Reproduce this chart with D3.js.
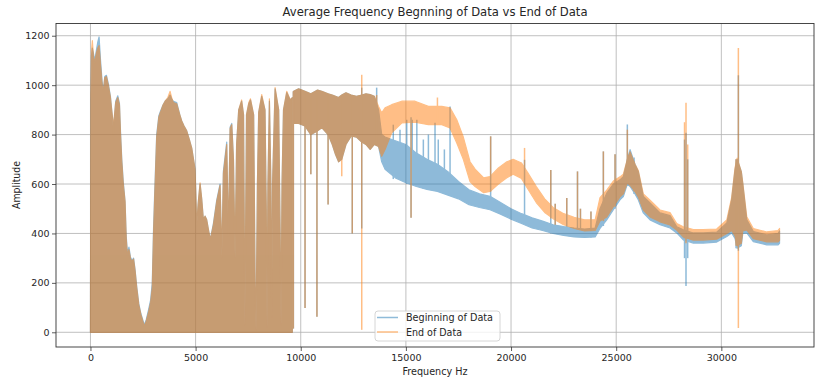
<!DOCTYPE html>
<html><head><meta charset="utf-8">
<script src="https://cdn.jsdelivr.net/npm/d3@7"></script>
<style>
body{margin:0;background:#fff}
svg{display:block}
text{font-family:"DejaVu Sans",sans-serif;fill:#262626}
</style>
</head><body>
<svg id="chart" width="819" height="381"></svg>
<script>
// ---------- text ----------
const chartTitle = "Average Frequency Begnning of Data vs End of Data";
const xLabel = "Frequency Hz";
const yLabel = "Amplitude";
const seriesNames = ["Beginning of Data", "End of Data"];
const xTicks = [0, 5000, 10000, 15000, 20000, 25000, 30000];
const yTicks = [0, 200, 400, 600, 800, 1000, 1200];

// ---------- low band (0 - 9600 Hz): signal swings down to 0, upper envelope ----------
const lowFreq = [0,20,50,90,140,210,280,350,410,480,560,614,680,760,850,950,1010,1060,1090,1120,1200,1300,1380,1430,1490,1560,1645,1700,1760,1830,1900,1980,2050,2120,2200,2300,2400,2560,2650,2760,2860,2940,3000,3060,3150,3250,3330,3450,3550,3680,3785,3860,3943,4100,4250,4340,4450,4578,4700,4816,4900,4974,5010,5053,5120,5212,5290,5370,5450,5528,5620,5700,5846,6005,6163,6250,6320,6480,6560,6640,6720,6800,6876,6950,7050,7190,7280,7343,7420,7530,7610,7760,7830,7874,7940,8000,8145,8300,8360,8397,8440,8510,8580,8620,8660,8780,8950,9020,9063,9110,9180,9334,9500,9600];
const lowBeginHi = [0,940,1120,1150,1130,1100,1140,1175,1195,1100,1010,978,1035,1040,1005,955,900,860,787,850,935,957,925,810,700,610,530,390,320,345,305,290,300,255,185,115,75,30,50,90,130,200,420,580,800,875,895,920,935,945,960,945,935,930,880,855,835,815,780,745,700,660,560,430,520,600,540,455,470,455,410,375,440,535,600,300,650,770,380,830,845,700,300,760,900,935,880,30,880,925,940,880,200,10,600,890,955,900,500,20,600,935,600,60,600,985,900,400,30,600,900,970,940,950];
const lowEndHi = [0,960,1140,1180,1120,1090,1130,1150,1160,1080,1000,975,1030,1035,1000,950,900,860,800,860,930,950,920,800,690,600,530,380,310,335,300,285,296,250,180,110,70,25,45,80,120,180,400,560,790,870,890,920,935,950,975,950,930,925,880,855,835,815,780,745,700,660,560,430,520,605,540,455,470,455,410,375,435,530,595,310,640,760,390,825,840,700,300,760,900,940,880,30,880,930,945,880,200,10,600,890,962,900,500,20,600,945,600,60,600,990,900,400,30,600,900,975,940,950];

// ---------- Beginning of Data: band above 9660 Hz (upper, lower) ----------
const beginFreq = [9660,9900,10200,10480,10800,11000,11300,11500,11650,11800,11950,12150,12400,12650,12900,13100,13300,13500,13700,13850,14010,14500,15000,15500,16000,16500,17000,17500,18000,18500,19000,19500,20000,20500,21000,21500,22000,22500,23000,23500,24000,24230,24550,24865,25180,25340,25530,25660,25895,26050,26290,26610,27085,27560,27880,28190,28670,29140,29780,30260,30490,30650,30750,30950,31020,31210,31520,32160,32700,32768];
const beginHi = [975,985,975,965,980,975,965,960,955,950,960,969,960,955,960,965,962,955,900,800,790,775,760,725,700,680,650,610,577,560,550,525,500,480,463,450,435,428,422,418,422,500,563,600,617,630,700,739,680,651,550,523,483,472,427,415,402,402,405,442,536,657,700,650,600,455,408,394,400,410];
const beginLo = [845,845,835,800,815,828,800,760,720,690,700,760,795,790,770,760,740,760,752,690,660,625,605,590,578,570,555,540,516,505,496,478,458,440,422,412,400,392,386,384,386,420,455,496,536,549,600,590,560,536,483,455,435,422,402,374,361,361,365,388,402,380,340,350,400,402,367,354,354,360];

// ---------- End of Data: band above 9660 Hz (upper, lower) ----------
const endFreq = [9660,9900,10200,10480,10800,11000,11300,11500,11650,11800,11950,12150,12400,12650,12900,13100,13300,13500,13700,13850,14010,14325,14800,15435,16070,16705,17100,17420,17730,18050,18290,18700,19000,19400,19800,20100,20500,20800,21200,21600,22000,22500,23000,23500,24000,24230,24550,24865,25180,25340,25530,25660,25895,26050,26290,26610,27085,27560,27880,28190,28670,29140,29780,30260,30490,30650,30750,30950,31020,31210,31520,32160,32700,32768];
const endHi = [975,985,975,965,980,975,965,960,955,950,960,969,960,955,960,965,962,955,914,888,908,921,935,935,914,914,908,860,790,690,660,625,630,665,690,700,685,645,590,540,505,480,465,455,455,545,575,612,629,640,700,730,680,655,560,535,495,484,440,427,416,416,418,455,545,665,705,650,605,467,420,406,412,420];
const endLo = [845,845,835,800,815,828,800,760,720,690,700,760,795,790,770,760,740,760,752,712,740,807,847,850,840,840,827,766,700,610,590,565,570,600,625,640,622,580,525,485,460,435,420,410,412,450,467,508,548,560,605,595,570,548,495,467,447,434,414,386,373,373,377,400,412,390,350,360,410,414,379,366,366,372];

// ---------- narrow spikes (Hz, from, to) ----------
const beginSpikeFreq = [9648,10204,10480,10770,11300,12450,12900,13610,14400,14720,15040,15245,15300,15520,15830,16070,16385,16540,16830,17100,19030,20642,21890,22100,22650,23160,23300,23800,24390,24945,25530,25850,28250,28320,28400,30700,30810,30950];
const beginSpikeLo = [15,98,640,63,517,400,420,760,620,620,600,463,600,590,580,578,575,570,560,555,496,440,400,400,392,386,386,384,430,500,600,560,300,187,300,340,330,380];
const beginSpikeHi = [975,975,965,975,965,960,990,990,840,820,860,870,860,860,780,800,848,780,740,914,793,698,657,520,543,651,500,489,732,720,841,707,780,807,700,700,1040,600];
const endSpikeFreq = [9648,10204,10480,10770,11300,11950,12450,12900,13610,15245,16500,19030,20642,21890,22100,22650,23160,23300,23800,24390,24945,25530,25850,28250,28320,28400,30700,30810];
const endSpikeLo = [15,98,640,63,517,631,400,10,760,463,840,570,620,460,435,435,420,415,410,450,508,605,570,380,360,380,350,17];
const endSpikeHi = [975,975,965,975,965,960,960,1042,960,870,950,793,746,657,520,543,651,500,489,732,720,820,690,850,929,760,700,1150];

const colors = ["#1f77b4", "#ff7f0e"];

// ---------- layout ----------
const svg = d3.select("#chart");
const plot = {l: 56, r: 814, t: 23.5, b: 347};
const x = d3.scaleLinear().domain([-1638.4, 34406.4]).range([plot.l, plot.r]);
const y = d3.scaleLinear().domain([-59.5, 1249.5]).range([plot.b, plot.t]);

svg.append("defs").append("clipPath").attr("id", "clip")
  .append("rect").attr("x", plot.l).attr("y", plot.t)
  .attr("width", plot.r - plot.l).attr("height", plot.b - plot.t);

// grid
const grid = svg.append("g");
grid.selectAll(".gx").data(xTicks).enter().append("line")
  .attr("x1", d => x(d)).attr("x2", d => x(d)).attr("y1", plot.t).attr("y2", plot.b)
  .attr("stroke", "#b0b0b0").attr("stroke-width", 0.8);
grid.selectAll(".gy").data(yTicks).enter().append("line")
  .attr("y1", d => y(d)).attr("y2", d => y(d)).attr("x1", plot.l).attr("x2", plot.r)
  .attr("stroke", "#b0b0b0").attr("stroke-width", 0.8);

// series
const area = d3.area().x(d => x(d.f)).y0(d => y(d.lo)).y1(d => y(d.hi));
const seriesDefs = [
  {lowHi: lowBeginHi, freq: beginFreq, hi: beginHi, lo: beginLo, sf: beginSpikeFreq, sl: beginSpikeLo, sh: beginSpikeHi},
  {lowHi: lowEndHi, freq: endFreq, hi: endHi, lo: endLo, sf: endSpikeFreq, sl: endSpikeLo, sh: endSpikeHi}
];
const dataG = svg.append("g").attr("clip-path", "url(#clip)");
seriesDefs.forEach((s, i) => {
  const g = dataG.append("g").attr("opacity", 0.5);
  const lowRows = lowFreq.map((f, k) => ({f, hi: s.lowHi[k], lo: 0}));
  const bandRows = s.freq.map((f, k) => ({f, hi: s.hi[k], lo: s.lo[k]}));
  [lowRows, bandRows].forEach(rows => {
    g.append("path").datum(rows).attr("d", area)
      .attr("fill", colors[i]).attr("stroke", colors[i]).attr("stroke-width", 1.2)
      .attr("stroke-linejoin", "round");
  });
  const spikes = s.sf.map((f, k) => ({f, lo: s.sl[k], hi: s.sh[k]}));
  g.selectAll("line.sp").data(spikes).enter().append("line")
    .attr("x1", d => x(d.f)).attr("x2", d => x(d.f))
    .attr("y1", d => y(d.lo)).attr("y2", d => y(d.hi))
    .attr("stroke", colors[i]).attr("stroke-width", 1.5);
});

// frame
svg.append("rect").attr("x", plot.l).attr("y", plot.t)
  .attr("width", plot.r - plot.l).attr("height", plot.b - plot.t)
  .attr("fill", "none").attr("stroke", "#333").attr("stroke-width", 0.9);

// axes
const ax = svg.append("g").attr("transform", `translate(0,${plot.b})`)
  .call(d3.axisBottom(x).tickValues(xTicks).tickFormat(d3.format("d")).tickSize(4).tickPadding(3.5));
const ay = svg.append("g").attr("transform", `translate(${plot.l},0)`)
  .call(d3.axisLeft(y).tickValues(yTicks).tickFormat(d3.format("d")).tickSize(4).tickPadding(2.5));
[ax, ay].forEach(a => {
  a.select(".domain").remove();
  a.selectAll(".tick line").attr("stroke", "#333").attr("stroke-width", 0.8);
  a.selectAll(".tick text").attr("font-size", "9.5px").attr("font-family", "DejaVu Sans").attr("fill", "#262626");
});

// titles
svg.append("text").attr("x", 435).attr("y", 16).attr("text-anchor", "middle")
  .attr("font-size", "12px").attr("textLength", 305).attr("lengthAdjust", "spacingAndGlyphs")
  .text(chartTitle);
svg.append("text").attr("x", 435).attr("y", 375).attr("text-anchor", "middle")
  .attr("font-size", "10px").attr("textLength", 65).attr("lengthAdjust", "spacingAndGlyphs")
  .text(xLabel);
svg.append("text").attr("transform", "translate(20,185) rotate(-90)").attr("text-anchor", "middle")
  .attr("font-size", "10px").attr("textLength", 48).attr("lengthAdjust", "spacingAndGlyphs")
  .text(yLabel);

// legend
const lg = svg.append("g");
lg.append("rect").attr("x", 375).attr("y", 311).attr("width", 125).attr("height", 30)
  .attr("rx", 3).attr("fill", "#fff").attr("fill-opacity", 0.8)
  .attr("stroke", "#cccccc").attr("stroke-width", 0.8);
const legendLens = [87, 56];
seriesNames.forEach((n, i) => {
  const yy = 317.5 + i * 14.5;
  lg.append("line").attr("x1", 377).attr("x2", 398).attr("y1", yy).attr("y2", yy)
    .attr("stroke", colors[i]).attr("stroke-opacity", 0.5).attr("stroke-width", 1.5);
  lg.append("text").attr("x", 406).attr("y", yy).attr("dy", "0.35em")
    .attr("font-size", "10px").attr("textLength", legendLens[i]).attr("lengthAdjust", "spacingAndGlyphs")
    .text(n);
});
</script>
</body></html>
